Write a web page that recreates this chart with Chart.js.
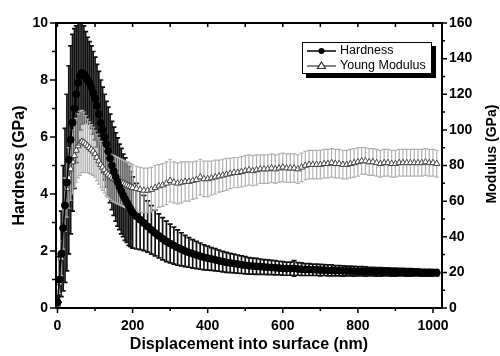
<!DOCTYPE html>
<html>
<head>
<meta charset="utf-8">
<script src="https://cdn.jsdelivr.net/npm/chart.js@4/dist/chart.umd.min.js"></script>
<style>
  html, body { margin: 0; padding: 0; background: #fff; }
  canvas { display: block; }
</style>
</head>
<body>
<canvas id="chart" width="500" height="356"></canvas>
<script>
// displacement into surface (nm)
const depth = [
  0, 5, 10, 15, 20, 25, 30, 35, 40, 45,
  50, 55, 60, 65, 70, 75, 80, 85, 90, 95,
  100, 105, 110, 115, 120, 125, 130, 135, 140, 145,
  150, 155, 160, 165, 170, 175, 180, 185, 190, 195,
  200,
  210, 220, 230, 240, 250, 260, 270, 280, 290, 300,
  310, 320, 330, 340, 350, 360, 370, 380, 390, 400,
  410, 420, 430, 440, 450, 460, 470, 480, 490, 500,
  510, 520, 530, 540, 550, 560, 570, 580, 590, 600,
  610, 620, 630, 640, 650, 660, 670, 680, 690, 700,
  710, 720, 730, 740, 750, 760, 770, 780, 790, 800,
  810, 820, 830, 840, 850, 860, 870, 880, 890, 900,
  910, 920, 930, 940, 950, 960, 970, 980, 990, 1000,
  1010
];

// hardness (GPa) and its std. deviation
const hardness = [
  0.2, 1.0, 1.9, 2.8, 3.6, 4.4, 5.2, 5.9, 6.5, 7.0,
  7.5, 7.9, 8.15, 8.25, 8.2, 8.1, 8.0, 7.9, 7.75, 7.55,
  7.35, 7.1, 6.8, 6.5, 6.25, 6.0, 5.75, 5.5, 5.25, 5.0,
  4.8, 4.6, 4.42, 4.25, 4.1, 3.95, 3.82, 3.7, 3.58, 3.47,
  3.35,
  3.22, 3.1, 2.98, 2.86, 2.74, 2.63, 2.53, 2.43, 2.34, 2.26,
  2.19, 2.12, 2.06, 2.0, 1.95, 1.9, 1.86, 1.82, 1.78, 1.75,
  1.72, 1.69, 1.66, 1.63, 1.6, 1.58, 1.56, 1.54, 1.52, 1.5,
  1.48, 1.47, 1.46, 1.45, 1.44, 1.43, 1.42, 1.41, 1.4, 1.39,
  1.38, 1.38, 1.39, 1.37, 1.36, 1.35, 1.35, 1.34, 1.34, 1.33,
  1.33, 1.32, 1.32, 1.31, 1.31, 1.3, 1.3, 1.3, 1.29, 1.29,
  1.29, 1.28, 1.28, 1.28, 1.27, 1.27, 1.27, 1.27, 1.26, 1.26,
  1.26, 1.26, 1.25, 1.25, 1.25, 1.25, 1.24, 1.24, 1.24, 1.24,
  1.24
];
const hardnessErr = [
  0.2, 0.8, 1.5, 2.2, 2.7, 3.1, 3.3, 3.3, 3.1, 2.8,
  2.4, 2.1, 1.9, 1.8, 1.7, 1.6, 1.5, 1.45, 1.45, 1.45,
  1.45, 1.45, 1.5, 1.5, 1.5, 1.5, 1.5, 1.55, 1.55, 1.55,
  1.55, 1.55, 1.55, 1.5, 1.5, 1.45, 1.45, 1.4, 1.38, 1.32,
  1.25,
  1.15, 1.05, 0.97, 0.9, 0.85, 0.8, 0.77, 0.74, 0.71, 0.68,
  0.65, 0.62, 0.58, 0.55, 0.52, 0.5, 0.48, 0.46, 0.44, 0.42,
  0.4, 0.39, 0.37, 0.36, 0.35, 0.34, 0.33, 0.32, 0.31, 0.3,
  0.29, 0.28, 0.28, 0.27, 0.26, 0.26, 0.25, 0.25, 0.24, 0.24,
  0.23, 0.23, 0.27, 0.22, 0.22, 0.21, 0.21, 0.2, 0.2, 0.2,
  0.19, 0.19, 0.19, 0.18, 0.18, 0.18, 0.17, 0.17, 0.17, 0.16,
  0.16, 0.16, 0.15, 0.15, 0.15, 0.15, 0.14, 0.14, 0.14, 0.14,
  0.13, 0.13, 0.13, 0.13, 0.12, 0.12, 0.12, 0.12, 0.12, 0.11,
  0.11
];

// Young modulus (GPa) and its std. deviation
const modulus = [
  2, 14, 28, 46, 58, 67, 73, 78, 82, 85.5,
  88.5, 91, 92.5, 93.5, 93, 92, 91, 90, 89, 88,
  86.5, 84.5, 82.5, 80.5, 79, 77.5, 76, 75, 74, 73,
  72.5, 72, 71.5, 71, 70.5, 70, 69.5, 69, 68.5, 68,
  67.5,
  67, 66.5, 66, 66, 66.5, 67.5, 68.5, 69, 70, 71.5,
  70.5, 70, 70.5, 71, 71, 71.5, 72, 73.5, 72.5, 72.5,
  73, 73.5, 74, 74.5, 75, 75.5, 76, 76, 76.5, 77,
  77.5, 77, 77.5, 78, 78, 78, 78.5, 78, 78.5, 79,
  78.5, 78.5, 78.5, 78, 79, 80, 80.5, 80.5, 80.5, 80.5,
  81, 81, 81.5, 81, 81, 80.5, 80.5, 81, 81.5, 82,
  82.5, 82.5, 82, 82, 81.5, 81, 81.5, 81.5, 81, 81,
  81.5, 81.5, 81.5, 81.5, 81.5, 81.5, 81.5, 82, 81.5, 81.5,
  81
];
const modulusErr = [
  2, 6, 10, 13, 15, 16, 17, 17.5, 18, 18,
  18, 18, 18, 17.5, 17, 16, 15, 14.5, 14, 13.5,
  13, 13, 13, 13, 13, 13, 13, 13, 13, 13,
  13, 13, 13, 13, 13, 13, 13, 13, 13, 13,
  13,
  12.5, 12.5, 12.5, 12.5, 12.5, 12.5, 12, 12, 12, 12,
  11.5, 11.5, 11.5, 11, 11, 10.5, 10.5, 10, 10, 10,
  9.5, 9.5, 9, 9, 9, 8.5, 8.5, 8.5, 8.5, 8.5,
  8.5, 8.5, 8.5, 8, 8, 8, 8, 8, 8, 8,
  8, 8, 8, 8, 8, 8, 8, 8, 8, 8,
  8, 8, 8, 8, 8, 8, 8, 8, 8, 8,
  7.5, 7.5, 7.5, 7.5, 7.5, 7.5, 7.5, 7.5, 7.5, 7.5,
  7.5, 7.5, 7.5, 7.5, 7.5, 7.5, 7.5, 7.5, 7.5, 7.5,
  7.5
];

// axis ticks
const xTicks = [0, 200, 400, 600, 800, 1000];
const hardTicks = [0, 2, 4, 6, 8, 10];
const modTicks = [0, 20, 40, 60, 80, 100, 120, 140, 160];

const FONT = "'Liberation Sans', Arial, sans-serif";
Chart.defaults.font.family = FONT;
Chart.defaults.color = "#000";

function drawBars(ctx, xs, ys, vals, errs, color, lw, cap) {
  ctx.strokeStyle = color;
  ctx.lineWidth = lw;
  ctx.beginPath();
  depth.forEach((d, i) => {
    const px = xs.getPixelForValue(d);
    const top = ys.getPixelForValue(vals[i] + errs[i]);
    const bot = ys.getPixelForValue(vals[i] - errs[i]);
    ctx.moveTo(px, top);
    ctx.lineTo(px, bot);
    ctx.moveTo(px - cap, top);
    ctx.lineTo(px + cap, top);
    ctx.moveTo(px - cap, bot);
    ctx.lineTo(px + cap, bot);
  });
  ctx.stroke();
}

// error bars go under all the lines
const errorBars = {
  id: "errorBars",
  beforeDatasetsDraw(chart) {
    const { ctx, chartArea: a, scales } = chart;
    ctx.save();
    ctx.beginPath();
    ctx.rect(a.left, a.top, a.right - a.left, a.bottom - a.top);
    ctx.clip();
    drawBars(ctx, scales.x, scales.y, hardness, hardnessErr, "#111", 1.7, 2.5);
    drawBars(ctx, scales.x, scales.y1, modulus, modulusErr, "#b0b0b0", 1.2, 2);
    ctx.restore();
  },
};

// Origin-like frame, minor ticks, inset legend and right title
const frame = {
  id: "frame",
  afterDraw(chart) {
    const { ctx, chartArea: a, scales } = chart;
    const { x, y, y1 } = scales;
    ctx.save();
    ctx.strokeStyle = "#000";
    ctx.lineWidth = 2;
    ctx.strokeRect(a.left, a.top, a.right - a.left, a.bottom - a.top);

    ctx.lineWidth = 1.5;
    ctx.beginPath();
    for (let v = 0; v <= 1000; v += 100) {
      const px = x.getPixelForValue(v);
      const len = v % 200 === 0 ? 5 : 3;
      ctx.moveTo(px, a.bottom);
      ctx.lineTo(px, a.bottom + len);
      ctx.moveTo(px, a.top);
      ctx.lineTo(px, a.top + 4);
    }
    for (let v = 0; v <= 10; v += 1) {
      const py = y.getPixelForValue(v);
      ctx.moveTo(a.left, py);
      ctx.lineTo(a.left - (v % 2 === 0 ? 6 : 4), py);
    }
    for (let v = 0; v <= 160; v += 10) {
      const py = y1.getPixelForValue(v);
      ctx.moveTo(a.right, py);
      ctx.lineTo(a.right + (v % 20 === 0 ? 5 : 3), py);
    }
    ctx.stroke();

    // right axis title, reading bottom to top
    ctx.save();
    ctx.translate(492, 154);
    ctx.rotate(-Math.PI / 2);
    ctx.font = "bold 14px " + FONT;
    ctx.textAlign = "center";
    ctx.textBaseline = "middle";
    ctx.fillStyle = "#000";
    ctx.fillText("Modulus (GPa)", 0, 0);
    ctx.restore();

    // legend box with drop shadow
    const lx = 302, ly = 42, lw = 130, lh = 32;
    ctx.fillStyle = "#000";
    ctx.fillRect(lx + 4, ly + 4, lw, lh);
    ctx.fillStyle = "#fff";
    ctx.fillRect(lx, ly, lw, lh);
    ctx.lineWidth = 1;
    ctx.strokeStyle = "#000";
    ctx.strokeRect(lx + 0.5, ly + 0.5, lw - 1, lh - 1);

    const r1 = ly + 9, r2 = ly + 24;
    ctx.lineWidth = 1.5;
    ctx.beginPath();
    ctx.moveTo(307, r1);
    ctx.lineTo(336, r1);
    ctx.stroke();
    ctx.beginPath();
    ctx.arc(321.5, r1, 3, 0, Math.PI * 2);
    ctx.fillStyle = "#000";
    ctx.fill();

    ctx.strokeStyle = "#333";
    ctx.lineWidth = 1.2;
    ctx.beginPath();
    ctx.moveTo(307, r2);
    ctx.lineTo(336, r2);
    ctx.stroke();
    ctx.beginPath();
    ctx.moveTo(321.5, r2 - 4);
    ctx.lineTo(325.5, r2 + 2.5);
    ctx.lineTo(317.5, r2 + 2.5);
    ctx.closePath();
    ctx.fillStyle = "#fff";
    ctx.fill();
    ctx.stroke();

    ctx.fillStyle = "#000";
    ctx.font = "12.5px " + FONT;
    ctx.textAlign = "left";
    ctx.textBaseline = "middle";
    ctx.fillText("Hardness", 340, r1);
    ctx.fillText("Young Modulus", 340, r2);
    ctx.restore();
  },
};

const tickFont = { size: 14, weight: "bold" };
const plain = (v) => String(v);

new Chart(document.getElementById("chart"), {
  type: "line",
  data: {
    datasets: [
      {
        label: "Hardness",
        data: depth.map((d, i) => ({ x: d, y: hardness[i] })),
        yAxisID: "y",
        borderColor: "#000",
        borderWidth: 1.5,
        pointRadius: 3.5,
        pointBackgroundColor: "#000",
        pointBorderColor: "#000",
        pointBorderWidth: 1,
        order: 1,
      },
      {
        label: "Young Modulus",
        data: depth.map((d, i) => ({ x: d, y: modulus[i] })),
        yAxisID: "y1",
        borderColor: "#444",
        borderWidth: 1,
        pointStyle: "triangle",
        pointRadius: 3.6,
        pointBackgroundColor: "#fff",
        pointBorderColor: "#333",
        pointBorderWidth: 0.9,
        order: 2,
      },
    ],
  },
  options: {
    responsive: false,
    animation: false,
    layout: { padding: { top: 23, left: 0, right: 0, bottom: 0 } },
    plugins: {
      legend: { display: false },
      tooltip: { enabled: false },
    },
    scales: {
      x: {
        type: "linear",
        min: -4,
        max: 1024,
        afterBuildTicks: (s) => { s.ticks = xTicks.map((v) => ({ value: v })); },
        afterFit: (s) => { s.height = 48; },
        grid: { display: false, drawTicks: false },
        border: { display: false },
        ticks: { font: tickFont, padding: 10, maxRotation: 0, autoSkip: false, callback: plain },
        title: {
          display: true,
          text: "Displacement into surface (nm)",
          font: { size: 16, weight: "bold" },
          padding: { top: 0, bottom: 2 },
        },
      },
      y: {
        position: "left",
        min: 0,
        max: 10,
        afterBuildTicks: (s) => { s.ticks = hardTicks.map((v) => ({ value: v })); },
        afterFit: (s) => { s.width = 56; },
        grid: { display: false, drawTicks: false },
        border: { display: false },
        ticks: { font: tickFont, padding: 8, callback: plain },
        title: {
          display: true,
          text: "Hardness (GPa)",
          font: { size: 16, weight: "bold" },
          padding: { top: 10, bottom: 0 },
        },
      },
      y1: {
        position: "right",
        min: 0,
        max: 160,
        afterBuildTicks: (s) => { s.ticks = modTicks.map((v) => ({ value: v })); },
        afterFit: (s) => { s.width = 58; },
        grid: { display: false, drawTicks: false },
        border: { display: false },
        ticks: { font: tickFont, padding: 7, callback: plain },
      },
    },
  },
  plugins: [errorBars, frame],
});
</script>
</body>
</html>
